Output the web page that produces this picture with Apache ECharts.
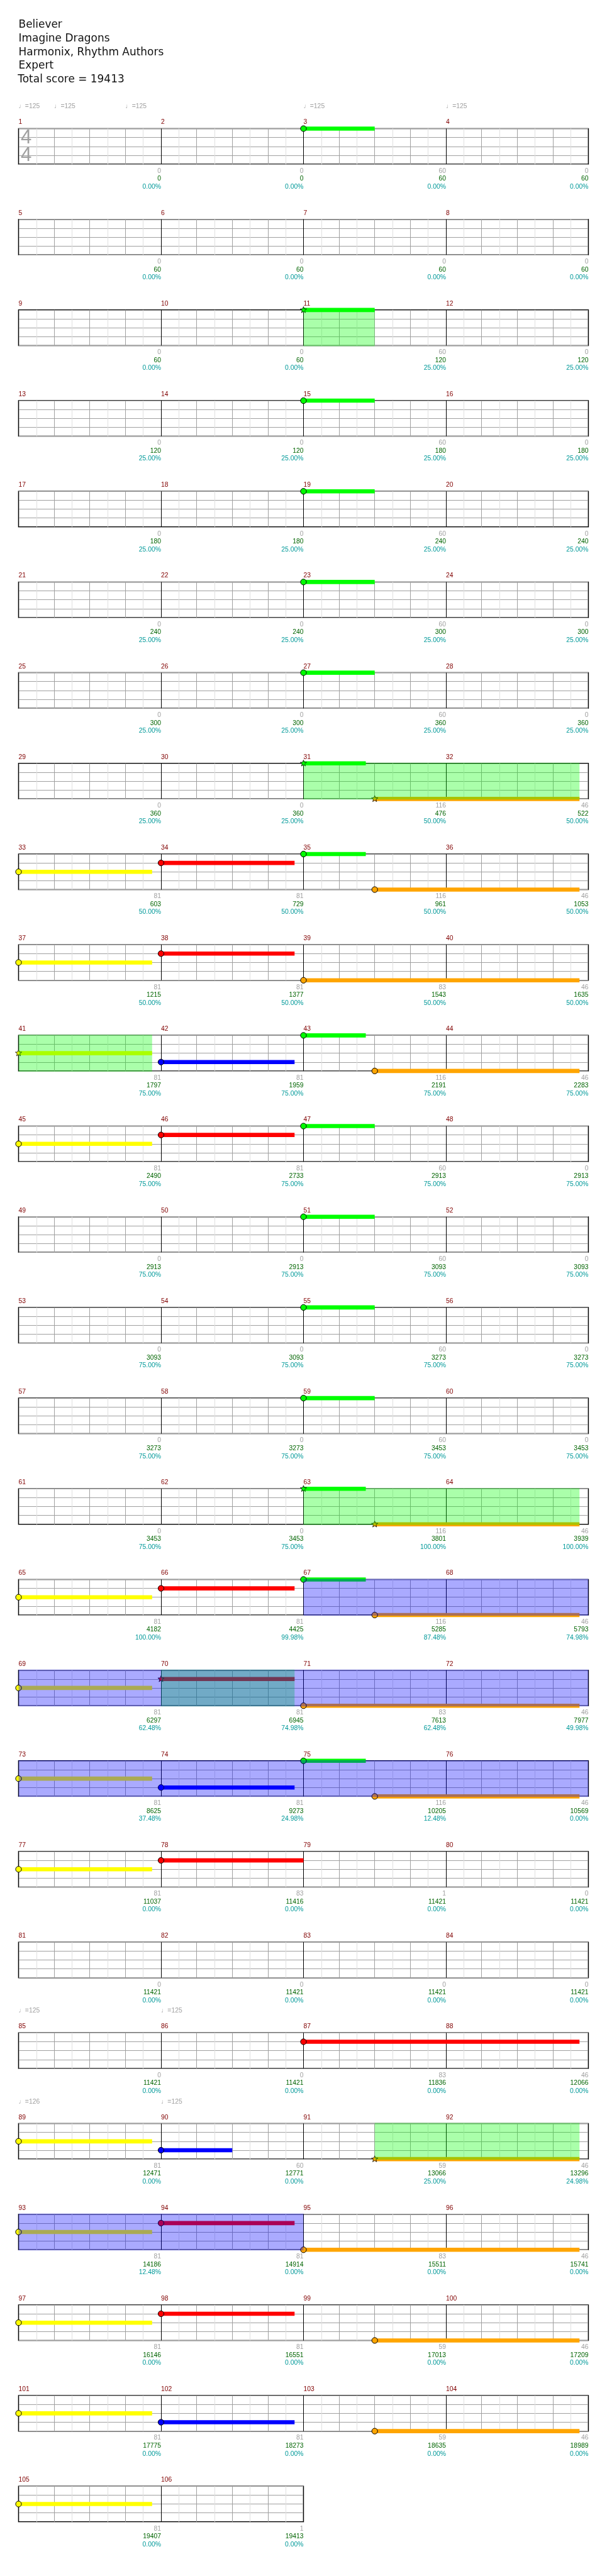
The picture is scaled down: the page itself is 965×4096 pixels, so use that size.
<!DOCTYPE html>
<html><head><meta charset="utf-8">
<script src="https://cdn.jsdelivr.net/npm/echarts@6/dist/echarts.min.js"></script>
<style>html,body{margin:0;padding:0;background:#fff}#c{width:965px;height:4096px}</style>
</head><body><div id="c"></div>
<script>
// ---------------- DATA ----------------
const songTitle = 'Believer';
const artist = 'Imagine Dragons';
const charter = 'Harmonix, Rhythm Authors';
const difficulty = 'Expert';
const totalScore = 19413;
const measureCount = 106;
const timeSignature = [4, 4];
const laneColors = ['#00ff00', '#ff0000', '#ffff00', '#0000ff', '#ffa500'];

// [measure, beat in measure, lane (0 green..4 orange), sustain beats, star note]
const notes = [
  [3,0,0,2,0],
  [11,0,0,2,1],
  [15,0,0,2,0],
  [19,0,0,2,0],
  [23,0,0,2,0],
  [27,0,0,2,0],
  [31,0,0,1.75,1],[31,2,4,5.75,1],
  [33,0,2,3.75,0],[34,0,1,3.75,0],[35,0,0,1.75,0],[35,2,4,5.75,0],
  [37,0,2,3.75,0],[38,0,1,3.75,0],[39,0,4,7.75,0],
  [41,0,2,3.75,1],[42,0,3,3.75,0],[43,0,0,1.75,0],[43,2,4,5.75,0],
  [45,0,2,3.75,0],[46,0,1,3.75,0],[47,0,0,2,0],
  [51,0,0,2,0],
  [55,0,0,2,0],
  [59,0,0,2,0],
  [63,0,0,1.75,1],[63,2,4,5.75,1],
  [65,0,2,3.75,0],[66,0,1,3.75,0],[67,0,0,1.75,0],[67,2,4,5.75,0],
  [69,0,2,3.75,0],[70,0,1,3.75,1],[71,0,4,7.75,0],
  [73,0,2,3.75,0],[74,0,3,3.75,0],[75,0,0,1.75,0],[75,2,4,5.75,0],
  [77,0,2,3.75,0],[78,0,1,4,0],
  [87,0,1,7.75,0],
  [89,0,2,3.75,0],[90,0,3,2,0],[91,2,4,5.75,1],
  [93,0,2,3.75,0],[94,0,1,3.75,0],[95,0,4,7.75,0],
  [97,0,2,3.75,0],[98,0,1,3.75,0],[99,2,4,5.75,0],
  [101,0,2,3.75,0],[102,0,3,3.75,0],[103,2,4,5.75,0],
  [105,0,2,3.75,0]
];
// star power phrases: [startMeasure, startBeat, endMeasure, endBeat]
const starPhrases = [[11,0,11,2],[31,0,32,3.75],[41,0,41,3.75],[63,0,64,3.75],[70,0,70,3.75],[91,2,92,3.75]];
// star power activations
const activations = [[67,0,76,4],[93,0,94,4]];
// tempo markings: [measure, beat, bpm]
const tempos = [[1,0,125],[1,1,125],[1,3,125],[3,0,125],[4,0,125],[85,0,125],[86,0,125],[89,0,126],[90,0,125]];

const measureScore = [
  0,0,60,0, 0,0,0,0, 0,0,60,0, 0,0,60,0, 0,0,60,0, 0,0,60,0, 0,0,60,0,
  0,0,116,46, 81,81,116,46, 81,81,83,46, 81,81,116,46, 81,81,60,0,
  0,0,60,0, 0,0,60,0, 0,0,60,0, 0,0,116,46, 81,81,116,46, 81,81,83,46,
  81,81,116,46, 81,83,1,0, 0,0,0,0, 0,0,83,46,
  81,60,59,46, 81,81,83,46, 81,81,59,46, 81,81,59,46, 81,1
];
const cumulativeScore = [
  0,0,60,60, 60,60,60,60, 60,60,120,120, 120,120,180,180, 180,180,240,240,
  240,240,300,300, 300,300,360,360, 360,360,476,522, 603,729,961,1053,
  1215,1377,1543,1635, 1797,1959,2191,2283, 2490,2733,2913,2913,
  2913,2913,3093,3093, 3093,3093,3273,3273, 3273,3273,3453,3453,
  3453,3453,3801,3939, 4182,4425,5285,5793, 6297,6945,7613,7977,
  8625,9273,10205,10569, 11037,11416,11421,11421, 11421,11421,11421,11421,
  11421,11421,11836,12066, 12471,12771,13066,13296, 14186,14914,15511,15741,
  16146,16551,17013,17209, 17775,18273,18635,18989, 19407,19413
];
const meterPct = [
  0,0,0,0, 0,0,0,0, 0,0,25,25, 25,25,25,25, 25,25,25,25, 25,25,25,25, 25,25,25,25,
  25,25,50,50, 50,50,50,50, 50,50,50,50, 75,75,75,75, 75,75,75,75,
  75,75,75,75, 75,75,75,75, 75,75,75,75, 75,75,100,100,
  100,99.98,87.48,74.98, 62.48,74.98,62.48,49.98, 37.48,24.98,12.48,0,
  0,0,0,0, 0,0,0,0, 0,0,0,0, 0,0,25,24.98, 12.48,0,0,0,
  0,0,0,0, 0,0,0,0, 0,0
];

// ---------------- LAYOUT ----------------
const S = 965 / 1024;
const F = "'Liberation Sans', Arial, 'DejaVu Sans', sans-serif";
const ROWS = Math.ceil(measureCount / 4);
const STAFF_W = 961.3;   // full-size width of a 4-measure staff
const BEAT_COLORS = ['#000000', '#a0a0a0', '#a0a0a0', '#a0a0a0'];

function starPts(cx, cy, R, r) {
  const pts = [];
  for (let i = 0; i < 10; i++) {
    const a = -Math.PI / 2 + i * Math.PI / 5;
    const rad = i % 2 === 0 ? R : r;
    pts.push([cx + rad * Math.cos(a), cy + rad * Math.sin(a)]);
  }
  return pts;
}

function renderNote(params, api) {
  const x0 = api.value(0), lane = api.value(1), len = api.value(2), star = api.value(3);
  const p0 = api.coord([x0, lane]);
  const p1 = api.coord([x0 + len, lane]);
  const col = laneColors[lane];
  const h = 7 * S;
  const ch = [];
  if (len > 0) ch.push({type: 'rect', shape: {x: p0[0], y: p0[1] - h / 2, width: p1[0] - p0[0], height: h}, style: {fill: col}});
  if (star) ch.push({type: 'polygon', shape: {points: starPts(p0[0], p0[1], 5.6 * S, 2.4 * S)}, style: {fill: col, stroke: '#000', lineWidth: 0.8}});
  else ch.push({type: 'circle', shape: {cx: p0[0], cy: p0[1], r: 4.9 * S}, style: {fill: col, stroke: '#000', lineWidth: 1}});
  return {type: 'group', children: ch};
}

function makeFillRenderer(color) {
  return function (params, api) {
    const p0 = api.coord([api.value(0), 0]);
    const p1 = api.coord([api.value(1), 4]);
    return {type: 'rect', shape: {x: p0[0], y: p0[1] - 1, width: p1[0] - p0[0], height: p1[1] - p0[1] + 2}, style: {fill: color}};
  };
}

function renderTempo(params, api) {
  const p = api.coord([api.value(0), 0]);
  return {type: 'text', x: p[0], y: p[1] - 37 * S,
    style: {text: '\u2669=' + api.value(1), fill: '#a0a0a0', fontSize: 11 * S, fontFamily: F, align: 'left', verticalAlign: 'middle'}};
}

function renderTimeSig(params, api) {
  const p = api.coord([0, 0]);
  const st = {fill: '#a0a0a0', fontSize: 33 * S, fontFamily: F, align: 'center', verticalAlign: 'middle'};
  return {type: 'group', children: [
    {type: 'text', x: p[0] + 13 * S, y: p[1] + 16 * S, style: Object.assign({text: String(api.value(0))}, st)},
    {type: 'text', x: p[0] + 13 * S, y: p[1] + 46 * S, style: Object.assign({text: String(api.value(1))}, st)}
  ]};
}

function segmentsInRow(list, r, beats) {
  const out = [];
  const rs = r * 16;
  list.forEach(s => {
    const a = (s[0] - 1) * 4 + s[1], b = (s[2] - 1) * 4 + s[3];
    const x0 = Math.max(a, rs), x1 = Math.min(b, rs + beats);
    if (x1 > x0) out.push([x0 - rs, x1 - rs]);
  });
  return out;
}

const grids = [], xAxes = [], yAxes = [], series = [];
const labRich = {
  s: {color: '#a0a0a0', fontSize: 11 * S, lineHeight: 13.3 * S, fontFamily: F, align: 'right'},
  c: {color: '#006400', fontSize: 11 * S, lineHeight: 13.3 * S, fontFamily: F, align: 'right'},
  p: {color: '#009999', fontSize: 11 * S, lineHeight: 13.3 * S, fontFamily: F, align: 'right'}
};

for (let r = 0; r < ROWS; r++) {
  const mStart = r * 4 + 1;
  const nMeas = Math.min(4, measureCount - r * 4);
  const beats = nMeas * 4;
  grids.push({left: 31.3 * S, top: (217 + r * 153) * S, width: STAFF_W * S * nMeas / 4, height: 60 * S,
    show: true, borderColor: '#000', borderWidth: 1.5, backgroundColor: 'transparent', containLabel: false});
  xAxes.push({
    gridIndex: r, type: 'value', position: 'bottom', min: 0, max: beats, interval: 1,
    axisLine: {show: false}, axisTick: {show: false},
    splitLine: {show: true, lineStyle: {color: BEAT_COLORS, width: 1}},
    minorTick: {show: false, splitNumber: 2},
    minorSplitLine: {show: true, lineStyle: {color: '#e0e0e0', width: 1}},
    axisLabel: {
      show: true, interval: 0, margin: 5 * S, verticalAlign: 'top', align: 'right',
      formatter: function (v) {
        if (v <= 0 || v % 4 !== 0) return '';
        const i = mStart - 1 + v / 4 - 1;
        return '{s|' + measureScore[i] + '}\n{c|' + cumulativeScore[i] + '}\n{p|' + meterPct[i].toFixed(2) + '%}';
      },
      rich: labRich
    }
  });
  xAxes.push({
    gridIndex: r, type: 'value', position: 'top', min: 0, max: beats, interval: 4,
    axisLine: {show: false}, axisTick: {show: false}, splitLine: {show: false},
    axisLabel: {show: true, showMaxLabel: false, showMinLabel: true, margin: 10.5 * S, verticalAlign: 'middle', align: 'left',
      color: '#800000', fontSize: 11 * S, fontFamily: F, formatter: v => String(mStart + v / 4)}
  });
  yAxes.push({gridIndex: r, type: 'value', min: 0, max: 4, interval: 1, inverse: true,
    axisLine: {show: false}, axisTick: {show: false}, axisLabel: {show: false},
    splitLine: {show: true, lineStyle: {color: '#a0a0a0', width: 1}}});

  const rowNotes = notes.filter(n => Math.floor((n[0] - 1) / 4) === r)
    .map(n => [((n[0] - 1) % 4) * 4 + n[1], n[2], n[3], n[4]]);
  series.push({type: 'custom', name: 'notes' + r, xAxisIndex: 2 * r, yAxisIndex: r, z: 5, silent: true, clip: false,
    data: rowNotes, renderItem: renderNote});
  series.push({type: 'custom', name: 'phr' + r, xAxisIndex: 2 * r, yAxisIndex: r, z: 6, silent: true, clip: false,
    data: segmentsInRow(starPhrases, r, beats), renderItem: makeFillRenderer('rgba(0,255,0,0.333)')});
  series.push({type: 'custom', name: 'act' + r, xAxisIndex: 2 * r, yAxisIndex: r, z: 7, silent: true, clip: false,
    data: segmentsInRow(activations, r, beats), renderItem: makeFillRenderer('rgba(0,0,255,0.333)')});
  const rowTempos = tempos.filter(t => Math.floor((t[0] - 1) / 4) === r)
    .map(t => [((t[0] - 1) % 4) * 4 + t[1], t[2]]);
  if (rowTempos.length) series.push({type: 'custom', name: 'tempo' + r, xAxisIndex: 2 * r, yAxisIndex: r, z: 5, silent: true, clip: false,
    data: rowTempos, renderItem: renderTempo});
  if (r === 0) series.push({type: 'custom', name: 'ts', xAxisIndex: 0, yAxisIndex: 0, z: 4, silent: true, clip: false,
    data: [timeSignature], renderItem: renderTimeSig});
}

const headerLines = [songTitle, artist, charter, difficulty, 'Total score = ' + totalScore];
const graphic = headerLines.map((t, i) => ({
  type: 'text', x: (i === 4 ? 30 : 31.3) * S, y: (42.3 + i * 23) * S, silent: true,
  style: {text: t, fill: '#111', fontSize: 18 * S, fontFamily: "'DejaVu Sans', sans-serif", align: 'left', verticalAlign: 'middle'}
}));

const chart = echarts.init(document.getElementById('c'), null, {renderer: 'canvas'});
chart.setOption({
  animation: false,
  backgroundColor: '#fff',
  graphic: graphic,
  grid: grids, xAxis: xAxes, yAxis: yAxes, series: series
});
</script></body></html>
